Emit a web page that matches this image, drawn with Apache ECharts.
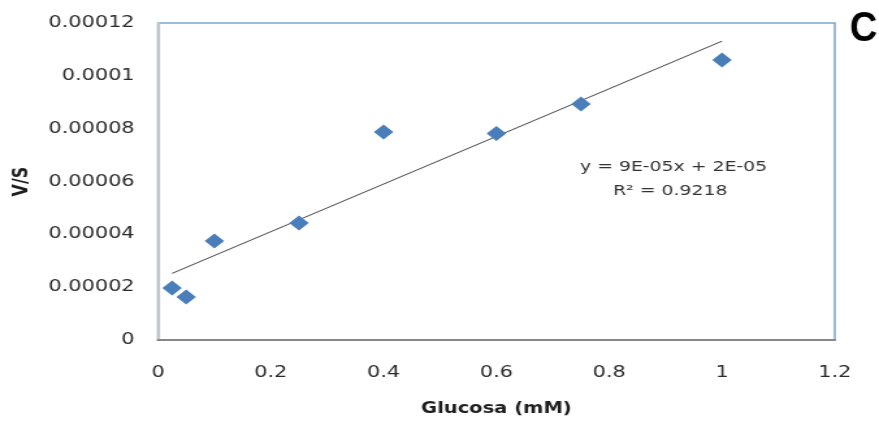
<!DOCTYPE html>
<html>
<head>
<meta charset="utf-8">
<script src="https://cdn.jsdelivr.net/npm/echarts@6/dist/echarts.min.js"></script>
<style>
  html, body { margin: 0; padding: 0; background: #fff; overflow: hidden; }
  /* The figure is laid out at a narrower width and widened horizontally,
     giving the broad lettering and flattened diamonds of the printed plate. */
  #chart {
    width: 676px; height: 427px;
    transform-origin: 0 0;
    transform: scaleX(1.3003);
  }
</style>
</head>
<body>
<div id="chart"></div>
<script>
// Glucose concentration (mM) and measured V/S
const glucose = [0.025, 0.05, 0.1, 0.25, 0.4, 0.6, 0.75, 1.0];
const vOverS = [0.0000197, 0.0000163, 0.0000375, 0.0000443, 0.0000787, 0.0000782, 0.0000893, 0.000106];

const xTickLabels = ['0', '0.2', '0.4', '0.6', '0.8', '1', '1.2'];
const yTickLabels = ['0', '0.00002', '0.00004', '0.00006', '0.00008', '0.0001', '0.00012'];

const equationText = 'y = 9E-05x + 2E-05';
const r2Text = 'R² = 0.9218';

// Least-squares linear fit of the measurements
function linearFit(xs, ys) {
  const n = xs.length;
  const mx = xs.reduce((a, b) => a + b, 0) / n;
  const my = ys.reduce((a, b) => a + b, 0) / n;
  let sxy = 0, sxx = 0;
  for (let i = 0; i < n; i++) {
    sxy += (xs[i] - mx) * (ys[i] - my);
    sxx += (xs[i] - mx) * (xs[i] - mx);
  }
  const slope = sxy / sxx;
  return { slope, intercept: my - slope * mx };
}
const fit = linearFit(glucose, vOverS);
const xFirst = glucose[0];
const xLast = glucose[glucose.length - 1];
const trend = [
  [xFirst, fit.intercept + fit.slope * xFirst],
  [xLast, fit.intercept + fit.slope * xLast]
];

const chart = echarts.init(document.getElementById('chart'));
const labelFont = 'DejaVu Sans';

chart.setOption({
  backgroundColor: '#ffffff',
  animation: false,
  grid: {
    left: 121.5, right: 34, top: 23, bottom: 87,
    show: true,
    borderColor: '#7fa3d6',
    borderWidth: 1.5
  },
  xAxis: {
    type: 'value',
    min: 0, max: 1.2, interval: 0.2,
    name: 'Glucosa (mM)',
    nameLocation: 'middle',
    nameGap: 62,
    nameTextStyle: { fontFamily: labelFont, fontWeight: 'bold', fontSize: 15, color: '#1e1e1e' },
    axisLine: { show: true, onZero: false, lineStyle: { color: '#868686', width: 2 } },
    axisTick: { show: false },
    splitLine: { show: false },
    axisLabel: {
      margin: 25,
      fontFamily: labelFont, fontSize: 16, color: '#2a2a2a',
      formatter: v => xTickLabels[Math.round(v / 0.2)]
    }
  },
  yAxis: {
    type: 'value',
    min: 0, max: 0.00012, interval: 0.00002,
    name: 'V/S',
    nameLocation: 'middle',
    nameRotate: 90,
    nameGap: 97,
    nameTextStyle: { fontFamily: labelFont, fontWeight: 'bold', fontSize: 16, color: '#1e1e1e' },
    axisLine: { show: true, onZero: false, lineStyle: { color: '#c4c4c4', width: 2.2 } },
    axisTick: { show: false },
    splitLine: { show: false },
    axisLabel: {
      margin: 18,
      fontFamily: labelFont, fontSize: 16, color: '#2a2a2a',
      formatter: v => yTickLabels[Math.round(v / 0.00002)]
    }
  },
  series: [
    {
      name: 'Lineal',
      type: 'line',
      data: trend,
      symbol: 'none',
      z: 2,
      lineStyle: { color: '#4a4a4a', width: 1.1 }
    },
    {
      name: 'V/S',
      type: 'scatter',
      data: glucose.map((x, i) => [x, vOverS[i]]),
      symbol: 'diamond',
      symbolSize: [15, 15],
      z: 3,
      itemStyle: { color: '#4a7ebb', opacity: 1 }
    }
  ],
  graphic: [
    {
      type: 'text', left: 446, top: 160,
      style: { text: equationText, fontFamily: labelFont, fontSize: 14.5, fill: '#333333' }
    },
    {
      type: 'text', left: 471.5, top: 184,
      style: { text: r2Text, fontFamily: labelFont, fontSize: 14.5, fill: '#333333' }
    },
    {
      type: 'text', x: 653.5, y: 8, scaleX: 0.7,
      style: { text: 'C', fontFamily: 'Liberation Sans', fontWeight: 'bold', fontSize: 42, fill: '#000' }
    }
  ]
});
</script>
</body>
</html>
